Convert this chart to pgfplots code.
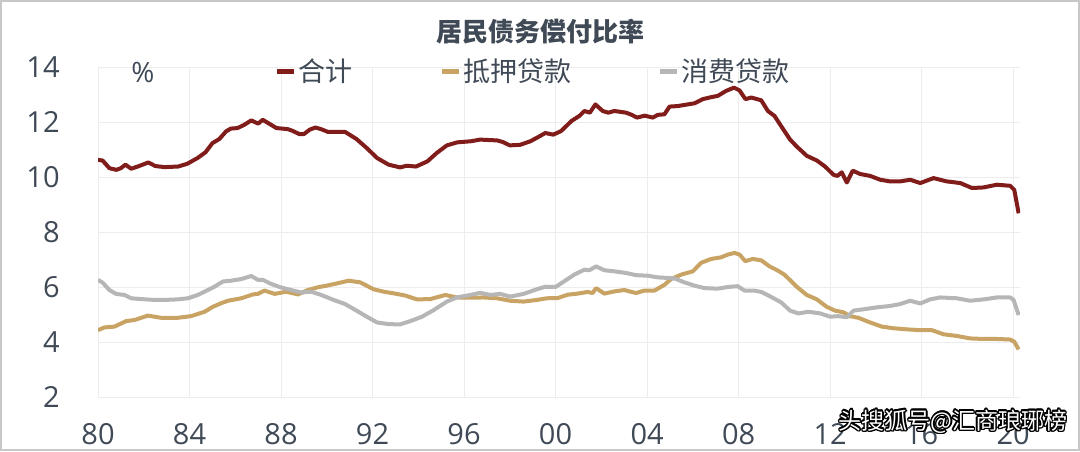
\documentclass[border=0pt]{standalone}
\usepackage{fontspec}
\setmainfont{Open Sans}
\newfontfamily\cjk{Noto Sans CJK SC}
\usepackage{pgfplots}
\pgfplotsset{compat=1.18}
\usepackage{contour}
\contourlength{0.7pt}
\definecolor{txt}{RGB}{64,74,86}
\definecolor{cred}{RGB}{128,28,26}
\definecolor{cgold}{RGB}{200,163,100}
\definecolor{cgray}{RGB}{182,182,182}
\definecolor{frame}{RGB}{200,200,200}
\begin{document}
\begin{tikzpicture}
\useasboundingbox (0,0) rectangle (540pt,225.5pt);
\draw[frame, line width=1pt] (0.5pt,0.5pt) rectangle (539.5pt,225pt);
\begin{axis}[
  at={(49pt,27pt)}, anchor=south west,
  scale only axis, width=461pt, height=165pt,
  xmin=1980, xmax=2020.3, ymin=2, ymax=14,
  xtick={1980,1984,...,2020},
  xticklabels={80,84,88,92,96,00,04,08,12,16,20},
  ytick={2,4,...,14},
  yticklabels={2,4,6,8,10,12,14},
  axis line style={draw=none},
  major tick length=0pt,
  grid=major,
  grid style={color=black!7, line width=0.5pt},
  tick label style={font=\fontsize{14.5pt}{16pt}\selectfont, text=txt, inner sep=0pt},
  xticklabel style={anchor=center, yshift=-18.5pt},
  yticklabel style={anchor=east, xshift=-19pt},
  legend columns=3,
  legend style={draw=none, fill=none, at={(0.191,0.985)}, anchor=west,
    inner sep=0pt, font=\fontsize{13.5pt}{15pt}\selectfont\cjk, text=txt,
    /tikz/every odd column/.style={column sep=0pt},
    /tikz/every even column/.style={column sep=0pt},
    nodes={inner sep=1pt}},
  legend image code/.code={\draw[#1, line width=2.5pt, line cap=butt] (0pt,0pt) -- (8.5pt,0pt);},
  every axis plot/.append style={line width=2pt, line join=round},
]
\addplot[cred] coordinates {
(1980.0,10.62)(1980.2,10.6)(1980.5,10.32)(1980.8,10.26)(1981.0,10.32)(1981.2,10.45)(1981.45,10.3)(1981.8,10.4)
(1982.2,10.53)(1982.5,10.4)(1982.9,10.36)(1983.5,10.38)(1983.9,10.48)(1984.35,10.69)(1984.7,10.9)(1985.0,11.23)
(1985.3,11.38)(1985.6,11.66)(1985.8,11.76)(1986.1,11.78)(1986.4,11.9)(1986.7,12.06)(1987.0,11.94)(1987.2,12.08)
(1987.5,11.93)(1987.8,11.78)(1988.3,11.74)(1988.5,11.68)(1988.8,11.56)(1989.0,11.56)(1989.25,11.72)(1989.5,11.8)
(1989.75,11.74)(1990.05,11.64)(1990.3,11.64)(1990.8,11.64)(1991.3,11.38)(1991.75,11.05)(1992.2,10.69)(1992.7,10.45)
(1993.2,10.35)(1993.5,10.41)(1993.9,10.38)(1994.4,10.57)(1994.8,10.87)(1995.25,11.15)(1995.7,11.26)(1996.3,11.3)
(1996.7,11.36)(1997.45,11.33)(1997.7,11.27)(1998.0,11.15)(1998.45,11.17)(1998.9,11.3)(1999.3,11.48)(1999.55,11.6)
(1999.9,11.54)(2000.24,11.67)(2000.7,12.04)(2001.04,12.22)(2001.26,12.4)(2001.5,12.34)(2001.74,12.64)(2002.06,12.4)
(2002.3,12.34)(2002.57,12.4)(2003.08,12.34)(2003.33,12.26)(2003.56,12.16)(2003.9,12.23)(2004.25,12.16)(2004.47,12.26)
(2004.76,12.28)(2004.98,12.56)(2005.34,12.58)(2005.78,12.64)(2006.07,12.68)(2006.43,12.83)(2006.73,12.89)(2007.09,12.95)
(2007.45,13.13)(2007.8,13.25)(2008.04,13.15)(2008.3,12.83)(2008.55,12.89)(2008.99,12.79)(2009.28,12.4)(2009.57,12.22)
(2009.86,11.85)(2010.25,11.36)(2010.54,11.11)(2010.98,10.77)(2011.42,10.6)(2011.78,10.38)(2012.15,10.08)(2012.32,10.04)
(2012.51,10.17)(2012.73,9.8)(2012.99,10.23)(2013.31,10.11)(2013.75,10.04)(2014.19,9.9)(2014.62,9.84)(2015.06,9.84)
(2015.5,9.9)(2015.94,9.78)(2016.52,9.96)(2017.1,9.84)(2017.69,9.78)(2018.2,9.6)(2018.7,9.62)(2019.29,9.72)
(2019.87,9.68)(2020.05,9.53)(2020.24,8.68)
};
\addlegendentry{\makebox[69.5pt][l]{合计}}
\addplot[cgold] coordinates {
(1980.0,4.43)(1980.28,4.53)(1980.72,4.56)(1981.23,4.76)(1981.6,4.8)(1982.18,4.96)(1982.76,4.88)(1983.49,4.88)
(1984.07,4.94)(1984.66,5.1)(1985.02,5.28)(1985.38,5.41)(1985.68,5.5)(1986.26,5.59)(1986.77,5.73)(1986.99,5.75)
(1987.28,5.87)(1987.72,5.75)(1988.23,5.83)(1988.74,5.73)(1989.17,5.89)(1989.61,5.99)(1990.0,6.05)(1990.44,6.13)
(1990.95,6.23)(1991.46,6.17)(1992.04,5.92)(1992.48,5.83)(1992.92,5.77)(1993.43,5.69)(1993.94,5.55)(1994.52,5.56)
(1995.18,5.71)(1995.69,5.62)(1996.27,5.61)(1996.85,5.62)(1997.44,5.59)(1998.02,5.5)(1998.6,5.47)(1999.19,5.53)
(1999.62,5.59)(2000.1,5.6)(2000.53,5.72)(2000.97,5.76)(2001.4,5.82)(2001.62,5.78)(2001.77,5.96)(2002.13,5.76)
(2002.57,5.84)(2003.0,5.89)(2003.52,5.78)(2003.88,5.87)(2004.32,5.87)(2004.76,6.08)(2005.05,6.29)(2005.49,6.45)
(2006.0,6.57)(2006.36,6.88)(2006.8,7.02)(2007.24,7.08)(2007.53,7.18)(2007.82,7.24)(2008.04,7.18)(2008.29,6.94)
(2008.62,7.02)(2008.99,6.97)(2009.35,6.75)(2009.71,6.6)(2010.0,6.45)(2010.25,6.25)(2010.54,6.01)(2010.98,5.71)
(2011.42,5.55)(2011.85,5.28)(2012.22,5.14)(2012.58,5.08)(2012.87,4.94)(2013.24,4.88)(2013.75,4.71)(2014.26,4.56)
(2014.77,4.5)(2015.35,4.46)(2015.94,4.43)(2016.45,4.43)(2016.96,4.28)(2017.54,4.22)(2018.12,4.13)(2018.71,4.11)
(2019.29,4.11)(2019.87,4.09)(2020.05,4.01)(2020.24,3.73)
};
\addlegendentry{\makebox[96pt][l]{抵押贷款}}
\addplot[cgray] coordinates {
(1980.0,6.26)(1980.2,6.16)(1980.5,5.89)(1980.79,5.75)(1981.16,5.71)(1981.45,5.59)(1981.89,5.56)(1982.47,5.53)
(1982.91,5.53)(1983.49,5.55)(1983.93,5.59)(1984.36,5.71)(1984.8,5.89)(1985.09,6.01)(1985.46,6.2)(1985.82,6.23)
(1986.26,6.29)(1986.7,6.4)(1986.99,6.26)(1987.21,6.26)(1987.57,6.11)(1988.01,5.98)(1988.45,5.89)(1988.88,5.8)
(1989.32,5.83)(1989.76,5.71)(1990.3,5.53)(1990.8,5.38)(1991.3,5.14)(1991.75,4.92)(1992.2,4.71)(1992.7,4.65)
(1993.2,4.64)(1993.65,4.76)(1994.16,4.92)(1994.67,5.16)(1995.25,5.47)(1995.69,5.62)(1996.27,5.71)(1996.7,5.79)
(1997.15,5.71)(1997.58,5.75)(1998.02,5.65)(1998.6,5.75)(1999.19,5.92)(1999.55,6.01)(2000.0,6.0)(2000.38,6.21)
(2000.82,6.45)(2001.26,6.63)(2001.48,6.61)(2001.77,6.75)(2002.13,6.61)(2002.57,6.57)(2003.08,6.51)(2003.52,6.43)
(2004.03,6.41)(2004.47,6.35)(2004.9,6.33)(2005.2,6.31)(2005.63,6.17)(2006.07,6.05)(2006.51,5.96)(2007.09,5.94)
(2007.53,6.0)(2007.96,6.03)(2008.26,5.87)(2008.69,5.87)(2008.99,5.82)(2009.42,5.64)(2009.86,5.44)(2010.25,5.14)
(2010.62,5.04)(2011.05,5.1)(2011.56,5.04)(2012.0,4.92)(2012.36,4.94)(2012.73,4.9)(2013.02,5.14)(2013.46,5.19)
(2014.04,5.26)(2014.62,5.31)(2015.06,5.38)(2015.5,5.5)(2015.94,5.4)(2016.37,5.55)(2016.81,5.62)(2017.54,5.59)
(2018.12,5.5)(2018.71,5.55)(2019.29,5.62)(2019.87,5.62)(2020.02,5.53)(2020.24,4.98)
};
\addlegendentry{消费贷款}
\end{axis}
\node[text=txt, font=\fontsize{13pt}{15pt}\selectfont\cjk\bfseries] at (270pt,209.5pt) {居民债务偿付比率};
\node[text=txt, font=\fontsize{14pt}{16pt}\selectfont] at (71.5pt,189.5pt) {\%};
\node[font=\fontsize{11.5pt}{13pt}\selectfont\cjk] at (476.5pt,14.5pt) {\contour{black}{\color{white}头搜狐号@汇商琅琊榜}};
\end{tikzpicture}
\end{document}
